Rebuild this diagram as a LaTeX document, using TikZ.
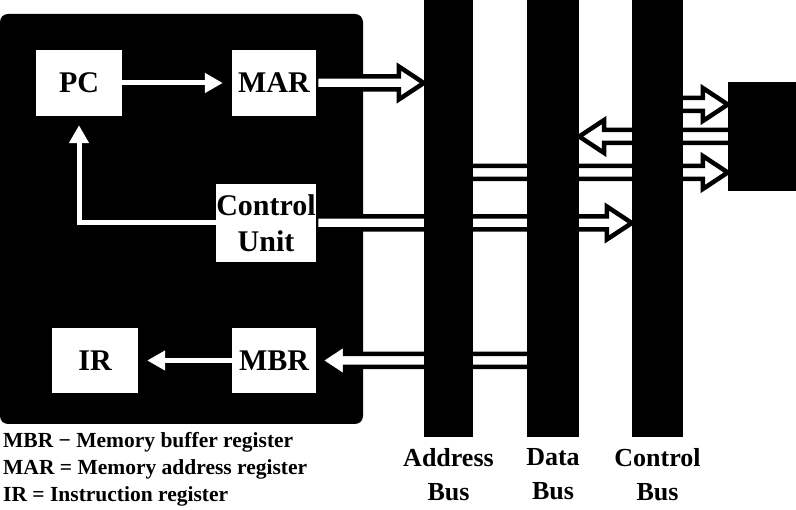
\documentclass[tikz,border=0pt]{standalone}
\usepackage{fontspec}
\setmainfont{Liberation Serif}
\usetikzlibrary{arrows.meta,positioning,calc}

\pgfdeclarelayer{back}
\pgfdeclarelayer{mid}
\pgfsetlayers{back,mid,main}

\begin{document}
\begin{tikzpicture}[
  x=1pt, y=-1pt,
  reg/.style={fill=white, inner sep=0pt, align=center, font=\fontsize{30}{36}\selectfont\bfseries},
  bus/.style={fill=black, inner sep=0pt, minimum height=437pt},
  buslbl/.style={inner sep=0pt, align=center, font=\fontsize{26}{34}\selectfont\bfseries},
  key/.style={anchor=base west, inner sep=0pt, font=\fontsize{21.5}{27}\selectfont\bfseries},
  flow/.style={draw=white, line width=5pt, -{Triangle[length=18pt, width=19pt]}, shorten >=9pt},
  busarrow/.style={draw=black, fill=white, line width=4.5pt,
    to path={let \p1=(\tikztostart), \p2=(\tikztotarget),
      \p3=($(\tikztotarget)!25pt!(\tikztostart)$) in
      (\x1,{\y1+6.5pt}) -- (\x3,{\y1+6.5pt}) -- (\x3,{\y1+16.5pt})
      -- (\x2,\y1) -- (\x3,{\y1-16.5pt}) -- (\x3,{\y1-6.5pt})
      -- (\x1,{\y1-6.5pt}) -- cycle}},
]
\useasboundingbox (0,0) rectangle (796,510);

% CPU
\begin{pgfonlayer}{back}
  \node[fill=black, rounded corners=8pt, minimum width=363pt, minimum height=410pt] (cpu) at (181.5,219) {};
\end{pgfonlayer}

% Registers and control unit
\node[reg, minimum width=86pt, minimum height=66pt] (pc) at (79,83) {PC};
\node[reg, minimum width=84pt, minimum height=66pt] (mar) at (274,83) {MAR};
\node[reg, minimum width=100pt, minimum height=78pt] (cu) at (266,223) {Control\\Unit};
\node[reg, minimum width=86pt, minimum height=65pt] (ir) at (95,360.5) {IR};
\node[reg, minimum width=84pt, minimum height=65pt] (mbr) at (274,360.5) {MBR};

% Buses
\node[bus, minimum width=49pt] (abus) at (448.5,218.5) {};
\node[bus, minimum width=52pt] (dbus) at (553,218.5) {};
\node[bus, minimum width=51pt] (cbus) at (657.5,218.5) {};
\node[fill=black, inner sep=0pt, minimum width=68pt, minimum height=109pt] (dev) at (762,136.5) {};

\node[buslbl, below=11pt of abus] (alabel) {Address\\Bus};
\node[buslbl, below=11pt of dbus] (dlabel) {Data\\Bus};
\node[buslbl, below=11pt of cbus] (clabel) {Control\\Bus};

% Internal paths
\begin{pgfonlayer}{mid}
  \draw[flow] (pc) -- (mar);
  \draw[flow] (cu.west) -| (pc.south);
  \draw[flow] (mbr) -- (ir);

  % Bus connections
  \coordinate (io1) at ($(dev.west)+(0,-32)$);
  \coordinate (io3) at ($(dev.west)+(0,36)$);
  \draw[busarrow] (mar.east) to (abus.west |- mar.east);
  \draw[busarrow] (cu.east) to (cbus.west |- cu.east);
  \draw[busarrow] (dbus.center |- mbr.east) to ([xshift=4pt]mbr.east);
  \draw[busarrow] (cbus.center |- io1) to (io1);
  \draw[busarrow] (dev.center) to (dbus.east |- dev.center);
  \draw[busarrow] (abus.center |- io3) to (io3);
\end{pgfonlayer}

% Key
\node[key] (k1) at (3,448) {MBR − Memory buffer register};
\node[key] (k2) at (3,475) {MAR = Memory address register};
\node[key] (k3) at (3,502) {IR = Instruction register};

\end{tikzpicture}
\end{document}
